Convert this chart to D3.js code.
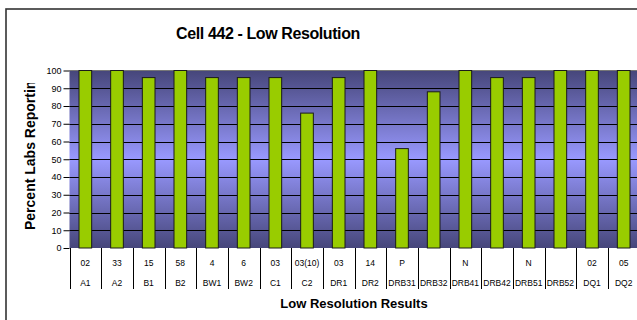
<!DOCTYPE html>
<html><head><meta charset="utf-8">
<script src="https://cdn.jsdelivr.net/npm/d3@7"></script>
<style>body{margin:0;background:#fff}svg{display:block}text{font-family:Arial,"Liberation Sans",sans-serif}</style>
</head><body>
<script>
const categories = ["A1","A2","B1","B2","BW1","BW2","C1","C2","DR1","DR2","DRB31","DRB32","DRB41","DRB42","DRB51","DRB52","DQ1","DQ2"];
const topLabels = ["02","33","15","58","4","6","03","03(10)","03","14","P","","N","","N","","02","05"];
const values = [100,100,96,100,96,96,96,76,96,100,56,88,100,96,96,100,100,100];
const yTicks = [0,10,20,30,40,50,60,70,80,90,100];

const W = 637, H = 320;
const svg = d3.select("body").append("svg").attr("width", W).attr("height", H);

// outer frame
svg.append("rect").attr("x",6).attr("y",9).attr("width",W+10).attr("height",H+10)
  .attr("fill","#fff").attr("stroke","#333").attr("stroke-width",1.6);

const L = 69.5, R = 639.5, T = 70.5, B = 248;
const x = d3.scaleBand().domain(categories).range([L, R]).paddingInner(0.6).paddingOuter(0.3);
const xb = d3.scaleBand().domain(categories).range([L, R]);
const y = d3.scaleLinear().domain([0,100]).range([B, T]);

const defs = svg.append("defs");
const g = defs.append("linearGradient").attr("id","bg").attr("x1",0).attr("x2",0).attr("y1",0).attr("y2",1);
g.append("stop").attr("offset","0%").attr("stop-color","#46467a");
g.append("stop").attr("offset","50%").attr("stop-color","#9999ff");
g.append("stop").attr("offset","100%").attr("stop-color","#46467a");

svg.append("rect").attr("x",L).attr("y",T).attr("width",R-L).attr("height",B-T).attr("fill","url(#bg)");
svg.append("line").attr("x1",L).attr("x2",R).attr("y1",T).attr("y2",T).attr("stroke","#777").attr("stroke-width",1);

// gridlines
svg.append("g").selectAll("line").data(yTicks.filter(d=>d>0 && d<100)).join("line")
  .attr("x1",L).attr("x2",R).attr("y1",d=>Math.round(y(d))+0.5).attr("y2",d=>Math.round(y(d))+0.5)
  .attr("stroke","#000").attr("stroke-width",1.2);

// y axis
const ya = svg.append("g").attr("transform",`translate(${L},0)`)
  .call(d3.axisLeft(y).tickValues(yTicks).tickSize(6).tickPadding(2));
ya.select(".domain").remove();
ya.selectAll("text").attr("font-size","9px").attr("fill","#000").style("font-family","Arial, 'Liberation Sans', sans-serif");
ya.selectAll("line").attr("stroke","#000");

// bars
svg.append("g").selectAll("rect").data(values).join("rect")
  .attr("x",(d,i)=>x(categories[i]))
  .attr("y",d=>y(d))
  .attr("width",x.bandwidth())
  .attr("height",d=>B-y(d))
  .attr("fill","#99cc00").attr("stroke","#1a1a1a").attr("stroke-width",1);

// category table
const tbl = svg.append("g");
const seps = categories.map(c=>xb(c)).concat([R]);
tbl.selectAll("line").data(seps).join("line")
  .attr("x1",d=>Math.round(d)+0.5).attr("x2",d=>Math.round(d)+0.5).attr("y1",B).attr("y2",289)
  .attr("stroke","#000").attr("stroke-width",1);
tbl.selectAll("text.t").data(topLabels).join("text").attr("class","t")
  .attr("x",(d,i)=>xb(categories[i])+xb.bandwidth()/2).attr("y",265.5)
  .attr("text-anchor","middle").attr("font-size","8.5px").text(d=>d);
tbl.selectAll("text.c").data(categories).join("text").attr("class","c")
  .attr("x",d=>xb(d)+xb.bandwidth()/2).attr("y",285.5)
  .attr("text-anchor","middle").attr("font-size","8.5px").text(d=>d);

// titles
svg.append("text").attr("x",268).attr("y",39).attr("text-anchor","middle")
  .attr("font-size","16px").attr("font-weight","bold").attr("letter-spacing","-0.4").text("Cell 442 - Low Resolution");
svg.append("text").attr("x",354).attr("y",308).attr("text-anchor","middle")
  .attr("font-size","13px").attr("font-weight","bold").text("Low Resolution Results");
defs.append("clipPath").attr("id","yc").append("rect").attr("x",0).attr("y",83).attr("width",60).attr("height",200);
svg.append("g").attr("clip-path","url(#yc)").append("text")
  .attr("transform","translate(34.5,230) rotate(-90)").attr("text-anchor","start")
  .attr("font-size","14px").attr("font-weight","bold").text("Percent Labs Reporting");
</script>
</body></html>
